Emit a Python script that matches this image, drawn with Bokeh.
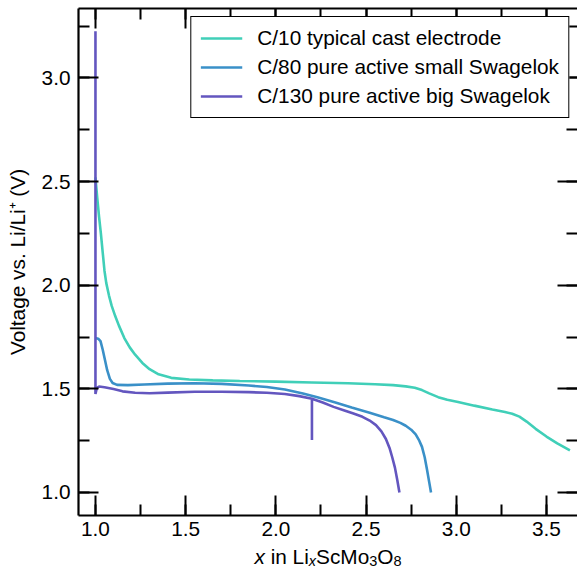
from bokeh.plotting import figure
from bokeh.layouts import column
from bokeh.models import (Range1d, LinearAxis, SingleIntervalTicker, PrintfTickFormatter,
                          CustomJSTickFormatter, Legend, LegendItem)
from bokeh.core.properties import value
from bokeh.embed import file_html
from bokeh.resources import INLINE

# ---- data ----
teal_x = [1.0, 1.005, 1.01, 1.015, 1.02, 1.03, 1.04, 1.05, 1.06, 1.075, 1.09, 1.11, 1.13, 1.16,
          1.19, 1.22, 1.26, 1.30, 1.35, 1.42, 1.52, 1.65, 1.80, 2.00, 2.20, 2.40, 2.55, 2.65,
          2.72, 2.77, 2.81, 2.85, 2.90, 2.95, 3.01, 3.10, 3.20, 3.27, 3.31, 3.35, 3.39, 3.44,
          3.50, 3.56, 3.63]
teal_y = [2.52, 2.47, 2.42, 2.375, 2.33, 2.25, 2.16, 2.07, 2.01, 1.95, 1.90, 1.85, 1.805, 1.745,
          1.70, 1.665, 1.625, 1.595, 1.57, 1.553, 1.545, 1.541, 1.538, 1.535, 1.531, 1.527,
          1.522, 1.518, 1.512, 1.505, 1.494, 1.478, 1.46, 1.447, 1.437, 1.419, 1.400, 1.388,
          1.380, 1.366, 1.342, 1.307, 1.270, 1.237, 1.203]

blue_x = [1.0, 1.015, 1.028, 1.04, 1.05, 1.065, 1.08, 1.095, 1.12, 1.18, 1.27, 1.40, 1.55,
          1.70, 1.85, 1.95, 2.05, 2.15, 2.23, 2.33, 2.42, 2.52, 2.60, 2.65, 2.69, 2.72, 2.75,
          2.775, 2.795, 2.81, 2.825, 2.838, 2.85, 2.86]
blue_y = [1.745, 1.742, 1.73, 1.69, 1.65, 1.59, 1.548, 1.528, 1.519, 1.518, 1.521, 1.525, 1.527,
          1.524, 1.516, 1.509, 1.497, 1.478, 1.459, 1.434, 1.410, 1.385, 1.363, 1.350, 1.336,
          1.322, 1.303, 1.28, 1.25, 1.22, 1.17, 1.11, 1.05, 1.0]

purple_x = [1.0, 1.0, 1.008, 1.02, 1.05, 1.10, 1.15, 1.22, 1.30, 1.40, 1.55, 1.70, 1.85, 1.95,
            2.05, 2.13, 2.20, 2.20, 2.20, 2.26, 2.32, 2.38, 2.43, 2.48, 2.52, 2.555, 2.585,
            2.61, 2.63, 2.645, 2.66, 2.673, 2.685]
purple_y = [3.225, 1.475, 1.505, 1.511, 1.508, 1.499, 1.488, 1.481, 1.479, 1.482, 1.486, 1.486,
            1.484, 1.481, 1.475, 1.465, 1.452, 1.253, 1.452, 1.434, 1.413, 1.396, 1.381, 1.365,
            1.347, 1.325, 1.295, 1.258, 1.215, 1.17, 1.12, 1.06, 1.0]

labels = ["C/10 typical cast electrode", "C/80 pure active small Swagelok",
          "C/130 pure active big Swagelok"]
colors = ["#40cfb8", "#3a90c8", "#6356bf"]

# x-axis title pieces: x in Li_x ScMo_3 O_8
xlabel_parts = ["x", "in Li", "x", "ScMo", "3", "O", "8"]

FONT = "Liberation Sans"
FS = "20.8px"

x0, x1 = 0.906, 3.672
y0, y1 = 0.889, 3.335

H_MAIN = 544
p = figure(width=577, height=H_MAIN, x_range=Range1d(x0, x1), y_range=Range1d(y0, y1),
           output_backend="svg", toolbar_location=None, title=None,
           min_border_left=78, min_border_right=0, min_border_top=8, min_border_bottom=29)
p.grid.visible = False
p.outline_line_color = None
p.background_fill_color = "white"
p.border_fill_color = "white"

bottom = p.below[0]
left = p.left[0]

r1 = p.line(teal_x, teal_y, line_color=colors[0], line_width=2.6)
r2 = p.line(blue_x, blue_y, line_color=colors[1], line_width=2.6)
r3 = p.line(purple_x, purple_y, line_color=colors[2], line_width=2.6)

top = LinearAxis()
right = LinearAxis()
p.add_layout(top, "above")
p.add_layout(right, "right")

for ax in [bottom, top, left, right]:
    ax.ticker = SingleIntervalTicker(interval=0.5, num_minor_ticks=2)
    ax.formatter = PrintfTickFormatter(format="%.1f")
    ax.major_tick_in = 20
    ax.major_tick_out = 0
    ax.minor_tick_in = 11
    ax.minor_tick_out = 0
    ax.major_tick_line_width = 2
    ax.minor_tick_line_width = 2
    ax.major_tick_line_color = "black"
    ax.minor_tick_line_color = "black"
    ax.axis_line_width = 2.2
    ax.axis_line_color = "black"
    ax.major_label_text_font = FONT
    ax.major_label_text_font_size = FS
    ax.major_label_text_color = "black"
    ax.major_label_standoff = 8
bottom.major_label_standoff = 6

for ax in [top, right]:
    ax.formatter = CustomJSTickFormatter(code="return ''")
    ax.major_label_text_font_size = "1px"
    ax.major_label_standoff = 0
right.axis_line_color = None

left.axis_label = "Voltage vs. Li/Li\u207a (V)"
left.axis_label_text_font = FONT
left.axis_label_text_font_size = FS
left.axis_label_text_font_style = "normal"
left.axis_label_text_color = "black"
left.axis_label_standoff = 10

legend = Legend(items=[LegendItem(label=labels[0], renderers=[r1]),
                       LegendItem(label=labels[1], renderers=[r2]),
                       LegendItem(label=labels[2], renderers=[r3])],
                location="top_right", margin=8, padding=9, spacing=5,
                glyph_width=42, glyph_height=20, label_height=20, label_standoff=15,
                label_text_font=FONT, label_text_font_size=FS, label_text_color="black",
                border_line_color="black", border_line_width=1.6, border_line_alpha=1.0,
                background_fill_color="white", background_fill_alpha=1.0)
p.add_layout(legend, "center")

# ---- x-axis title strip (real text, with italic x and subscripts) ----
# In a column Bokeh aligns the plot frames, so this strip's frame spans page x 78..577.
H2 = 568 - H_MAIN
p2 = figure(width=577, height=H2, x_range=Range1d(78, 577), y_range=Range1d(0, H2),
            output_backend="svg", toolbar_location=None, title=None,
            x_axis_location=None, y_axis_location=None,
            min_border=0, min_border_left=78, min_border_right=0,
            min_border_top=0, min_border_bottom=0)
p2.grid.visible = False
p2.outline_line_color = None
p2.background_fill_color = "white"
p2.border_fill_color = "white"

MAIN, SUB = 20.8, 14.5
sizes = [MAIN, MAIN, SUB, MAIN, SUB, MAIN, SUB]
styles = ["italic", "normal", "italic", "normal", "normal", "normal", "normal"]
lead = [0.0, 0.278, 0.0, 0.0, 0.0, 0.0, 0.0]      # leading space (em) before a piece
em_w = [0.500, 1.834, 0.500, 2.556, 0.556, 0.778, 0.556]
total = sum(s * (w + l) for s, w, l in zip(sizes, em_w, lead))
cur = 78 + (577 - 78) / 2 - total / 2
for txt, sz, st, w, l in zip(xlabel_parts, sizes, styles, em_w, lead):
    cur += sz * l
    base = 4 if sz == MAIN else 1.5          # wanted baseline, px above strip bottom
    yb = base + 0.38 * sz                     # compensate the text box offset
    p2.text(x=[cur], y=[yb], text=[txt], text_font=value(FONT),
            text_font_size=value(f"{sz}px"), text_font_style=st, text_color="black",
            text_baseline="alphabetic", text_align="left")
    cur += sz * w

layout = column(p, p2, spacing=0)
open("out.html", "w").write(file_html(layout, INLINE))
